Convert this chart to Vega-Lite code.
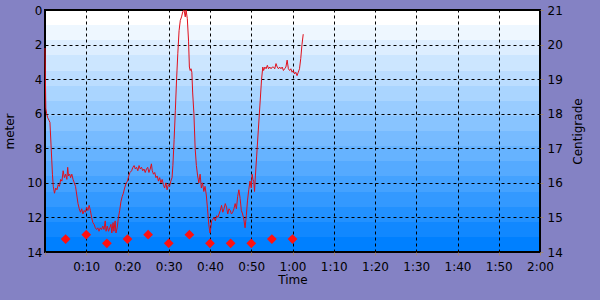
{
  "$schema": "https://vega.github.io/schema/vega-lite/v6.json",
  "width": 495,
  "height": 242,
  "autosize": {"type": "none"},
  "padding": {"left": 45, "top": 10, "right": 60, "bottom": 48},
  "background": "#8482c4",
  "view": {
    "fill": {"gradient": "linear", "x1": 0, "y1": 0, "x2": 0, "y2": 1, "stops": [
      {"offset": 0, "color": "#ffffff"}, {"offset": 0.0625, "color": "#ffffff"},
      {"offset": 0.0625, "color": "#eef7ff"}, {"offset": 0.125, "color": "#eef7ff"},
      {"offset": 0.125, "color": "#ddeeff"}, {"offset": 0.1875, "color": "#ddeeff"},
      {"offset": 0.1875, "color": "#cce6ff"}, {"offset": 0.25, "color": "#cce6ff"},
      {"offset": 0.25, "color": "#bbddff"}, {"offset": 0.3125, "color": "#bbddff"},
      {"offset": 0.3125, "color": "#aad5ff"}, {"offset": 0.375, "color": "#aad5ff"},
      {"offset": 0.375, "color": "#99ccff"}, {"offset": 0.4375, "color": "#99ccff"},
      {"offset": 0.4375, "color": "#88c4ff"}, {"offset": 0.5, "color": "#88c4ff"},
      {"offset": 0.5, "color": "#77bbff"}, {"offset": 0.5625, "color": "#77bbff"},
      {"offset": 0.5625, "color": "#66b3ff"}, {"offset": 0.625, "color": "#66b3ff"},
      {"offset": 0.625, "color": "#55aaff"}, {"offset": 0.6875, "color": "#55aaff"},
      {"offset": 0.6875, "color": "#44a2ff"}, {"offset": 0.75, "color": "#44a2ff"},
      {"offset": 0.75, "color": "#3399ff"}, {"offset": 0.8125, "color": "#3399ff"},
      {"offset": 0.8125, "color": "#2291ff"}, {"offset": 0.875, "color": "#2291ff"},
      {"offset": 0.875, "color": "#1188ff"}, {"offset": 0.9375, "color": "#1188ff"},
      {"offset": 0.9375, "color": "#0080ff"}, {"offset": 1, "color": "#0080ff"}
    ]},
    "stroke": "#000000",
    "strokeWidth": 2
  },
  "config": {
    "font": "DejaVu Sans",
    "axis": {
      "labelFont": "DejaVu Sans",
      "labelFontSize": 12,
      "labelColor": "#000000",
      "labelFlush": false,
      "labelOverlap": false,
      "titleFont": "DejaVu Sans",
      "titleFontSize": 12,
      "titleFontWeight": "normal",
      "titleColor": "#000000",
      "domain": false,
      "gridColor": "#000000",
      "gridDash": [3, 3],
      "gridWidth": 1,
      "gridOpacity": 1,
      "tickColor": "#a08878",
      "tickSize": 3
    }
  },
  "datasets": {
    "depth": [
      {"t": 0.0, "d": 2.2}, {"t": 0.1, "d": 4.0}, {"t": 0.2, "d": 5.7}, {"t": 0.4, "d": 6.0},
      {"t": 0.6, "d": 6.2}, {"t": 0.8, "d": 6.3}, {"t": 1.0, "d": 6.4}, {"t": 1.2, "d": 6.5},
      {"t": 1.5, "d": 8.0}, {"t": 1.8, "d": 9.5}, {"t": 2.0, "d": 10.2}, {"t": 2.3, "d": 10.6},
      {"t": 2.6, "d": 10.3}, {"t": 2.9, "d": 10.4}, {"t": 3.2, "d": 10.1}, {"t": 3.5, "d": 10.2},
      {"t": 3.8, "d": 9.8}, {"t": 4.1, "d": 9.9}, {"t": 4.4, "d": 9.3}, {"t": 4.7, "d": 9.7},
      {"t": 5.0, "d": 9.5}, {"t": 5.3, "d": 9.8}, {"t": 5.5, "d": 9.1}, {"t": 5.7, "d": 9.6},
      {"t": 6.0, "d": 9.5}, {"t": 6.2, "d": 9.7}, {"t": 6.5, "d": 9.5}, {"t": 6.8, "d": 9.8},
      {"t": 7.1, "d": 10.0}, {"t": 7.4, "d": 10.2}, {"t": 7.7, "d": 10.7}, {"t": 8.0, "d": 11.2},
      {"t": 8.3, "d": 11.5}, {"t": 8.6, "d": 11.7}, {"t": 8.9, "d": 11.5}, {"t": 9.2, "d": 11.8},
      {"t": 9.5, "d": 11.6}, {"t": 9.8, "d": 11.7}, {"t": 10.1, "d": 11.4}, {"t": 10.4, "d": 11.6},
      {"t": 10.7, "d": 11.3}, {"t": 11.0, "d": 11.6}, {"t": 11.3, "d": 12.0}, {"t": 11.6, "d": 12.3},
      {"t": 11.9, "d": 12.4}, {"t": 12.2, "d": 12.6}, {"t": 12.5, "d": 12.7}, {"t": 12.8, "d": 12.6},
      {"t": 13.1, "d": 12.8}, {"t": 13.4, "d": 12.6}, {"t": 13.7, "d": 12.7}, {"t": 14.0, "d": 12.5},
      {"t": 14.3, "d": 12.7}, {"t": 14.6, "d": 12.2}, {"t": 14.8, "d": 12.8}, {"t": 15.1, "d": 12.5},
      {"t": 15.4, "d": 12.8}, {"t": 15.7, "d": 12.6}, {"t": 16.0, "d": 12.4}, {"t": 16.2, "d": 12.9},
      {"t": 16.5, "d": 12.3}, {"t": 16.7, "d": 12.8}, {"t": 17.0, "d": 12.2}, {"t": 17.2, "d": 12.9},
      {"t": 17.5, "d": 12.6}, {"t": 17.8, "d": 12.0}, {"t": 18.1, "d": 11.6}, {"t": 18.4, "d": 11.1},
      {"t": 18.7, "d": 10.8}, {"t": 19.0, "d": 10.6}, {"t": 19.3, "d": 10.3}, {"t": 19.7, "d": 10.0},
      {"t": 20.0, "d": 9.9}, {"t": 20.3, "d": 9.6}, {"t": 20.6, "d": 9.4}, {"t": 21.0, "d": 9.3},
      {"t": 21.3, "d": 9.1}, {"t": 21.6, "d": 9.0}, {"t": 21.9, "d": 9.2}, {"t": 22.2, "d": 9.1},
      {"t": 22.5, "d": 9.3}, {"t": 22.8, "d": 9.0}, {"t": 23.1, "d": 9.2}, {"t": 23.4, "d": 9.1},
      {"t": 23.7, "d": 9.3}, {"t": 24.0, "d": 9.2}, {"t": 24.3, "d": 9.4}, {"t": 24.6, "d": 9.2},
      {"t": 24.9, "d": 9.1}, {"t": 25.2, "d": 9.4}, {"t": 25.5, "d": 9.2}, {"t": 25.8, "d": 8.9},
      {"t": 26.0, "d": 9.3}, {"t": 26.3, "d": 9.5}, {"t": 26.6, "d": 9.4}, {"t": 26.9, "d": 9.7},
      {"t": 27.2, "d": 9.6}, {"t": 27.5, "d": 9.9}, {"t": 27.8, "d": 9.7}, {"t": 28.1, "d": 10.0},
      {"t": 28.4, "d": 9.8}, {"t": 28.7, "d": 10.1}, {"t": 29.0, "d": 10.3}, {"t": 29.3, "d": 10.0},
      {"t": 29.6, "d": 10.4}, {"t": 29.9, "d": 10.1}, {"t": 30.2, "d": 10.2}, {"t": 30.5, "d": 9.9},
      {"t": 30.8, "d": 9.7}, {"t": 31.0, "d": 9.0}, {"t": 31.3, "d": 7.5}, {"t": 31.6, "d": 5.8},
      {"t": 31.9, "d": 4.0}, {"t": 32.2, "d": 2.5}, {"t": 32.5, "d": 1.2}, {"t": 32.8, "d": 0.6},
      {"t": 33.1, "d": 0.4}, {"t": 33.4, "d": 0.1}, {"t": 33.7, "d": 0.0}, {"t": 34.0, "d": 0.4},
      {"t": 34.2, "d": 0.0}, {"t": 34.5, "d": 0.5}, {"t": 34.8, "d": 1.8}, {"t": 35.0, "d": 3.3},
      {"t": 35.2, "d": 3.5}, {"t": 35.4, "d": 3.4}, {"t": 35.6, "d": 3.6}, {"t": 35.8, "d": 4.8},
      {"t": 36.1, "d": 6.0}, {"t": 36.4, "d": 8.0}, {"t": 36.7, "d": 9.0}, {"t": 37.0, "d": 9.6},
      {"t": 37.3, "d": 10.0}, {"t": 37.6, "d": 9.5}, {"t": 37.9, "d": 10.3}, {"t": 38.2, "d": 10.0},
      {"t": 38.5, "d": 10.5}, {"t": 38.8, "d": 10.2}, {"t": 39.1, "d": 10.7}, {"t": 39.4, "d": 11.5},
      {"t": 39.7, "d": 12.4}, {"t": 40.0, "d": 12.9}, {"t": 40.2, "d": 12.6}, {"t": 40.4, "d": 12.2},
      {"t": 40.7, "d": 12.1}, {"t": 41.0, "d": 12.0}, {"t": 41.3, "d": 12.2}, {"t": 41.6, "d": 11.9},
      {"t": 41.9, "d": 12.0}, {"t": 42.2, "d": 11.8}, {"t": 42.5, "d": 11.6}, {"t": 42.8, "d": 11.3},
      {"t": 43.1, "d": 11.7}, {"t": 43.4, "d": 11.5}, {"t": 43.7, "d": 11.2}, {"t": 44.0, "d": 11.4},
      {"t": 44.3, "d": 11.8}, {"t": 44.6, "d": 11.5}, {"t": 44.9, "d": 11.6}, {"t": 45.2, "d": 11.8},
      {"t": 45.5, "d": 11.7}, {"t": 45.8, "d": 11.5}, {"t": 46.1, "d": 11.2}, {"t": 46.4, "d": 11.5},
      {"t": 46.7, "d": 10.8}, {"t": 47.0, "d": 10.4}, {"t": 47.3, "d": 10.9}, {"t": 47.6, "d": 11.6},
      {"t": 47.9, "d": 11.8}, {"t": 48.2, "d": 12.1}, {"t": 48.5, "d": 12.6}, {"t": 48.8, "d": 11.9},
      {"t": 49.1, "d": 11.0}, {"t": 49.4, "d": 10.4}, {"t": 49.7, "d": 9.9}, {"t": 50.0, "d": 10.3},
      {"t": 50.2, "d": 9.5}, {"t": 50.4, "d": 9.8}, {"t": 50.6, "d": 9.9}, {"t": 50.8, "d": 10.5},
      {"t": 51.0, "d": 9.6}, {"t": 51.3, "d": 8.5}, {"t": 51.7, "d": 7.0}, {"t": 52.1, "d": 5.5},
      {"t": 52.5, "d": 4.0}, {"t": 52.8, "d": 3.3}, {"t": 53.0, "d": 3.5}, {"t": 53.3, "d": 3.3},
      {"t": 53.6, "d": 3.4}, {"t": 53.9, "d": 3.2}, {"t": 54.2, "d": 3.4}, {"t": 54.5, "d": 3.3},
      {"t": 54.8, "d": 3.4}, {"t": 55.1, "d": 3.3}, {"t": 55.4, "d": 3.3}, {"t": 55.7, "d": 3.4},
      {"t": 56.0, "d": 3.1}, {"t": 56.3, "d": 3.3}, {"t": 56.6, "d": 3.4}, {"t": 56.9, "d": 3.3},
      {"t": 57.2, "d": 3.4}, {"t": 57.5, "d": 3.3}, {"t": 57.8, "d": 3.5}, {"t": 58.1, "d": 3.4},
      {"t": 58.4, "d": 3.3}, {"t": 58.7, "d": 2.9}, {"t": 59.0, "d": 3.4}, {"t": 59.3, "d": 3.5},
      {"t": 59.6, "d": 3.4}, {"t": 59.9, "d": 3.6}, {"t": 60.2, "d": 3.5}, {"t": 60.5, "d": 3.7},
      {"t": 60.8, "d": 3.6}, {"t": 61.1, "d": 3.8}, {"t": 61.4, "d": 3.6}, {"t": 61.7, "d": 3.4},
      {"t": 62.0, "d": 2.8}, {"t": 62.3, "d": 2.0}, {"t": 62.6, "d": 1.4}
    ],
    "temp": [
      {"t": 5, "c": 14.375}, {"t": 10, "c": 14.5}, {"t": 15, "c": 14.25}, {"t": 20, "c": 14.375},
      {"t": 25, "c": 14.5}, {"t": 30, "c": 14.25}, {"t": 35, "c": 14.5}, {"t": 40, "c": 14.25},
      {"t": 45, "c": 14.25}, {"t": 50, "c": 14.25}, {"t": 55, "c": 14.375}, {"t": 60, "c": 14.375}
    ]
  },
  "layer": [
    {
      "data": {"name": "depth"},
      "mark": {"type": "line", "color": "#e0101c", "strokeWidth": 1, "interpolate": "linear"},
      "encoding": {
        "x": {
          "field": "t", "type": "quantitative",
          "scale": {"domain": [0, 120], "nice": false, "zero": false},
          "axis": {
            "orient": "bottom",
            "values": [0, 10, 20, 30, 40, 50, 60, 70, 80, 90, 100, 110, 120],
            "grid": true,
            "labelExpr": "datum.value == 0 ? '' : floor(datum.value / 60) + ':' + (datum.value % 60 < 10 ? '0' : '') + (datum.value % 60)",
            "labelPadding": 6,
            "title": "Time",
            "titlePadding": 2
          }
        },
        "y": {
          "field": "d", "type": "quantitative",
          "scale": {"domain": [0, 14], "reverse": true, "nice": false, "zero": false},
          "axis": {
            "orient": "left",
            "values": [0, 2, 4, 6, 8, 10, 12, 14],
            "grid": true,
            "ticks": false,
            "labelPadding": 3,
            "title": "meter",
            "titlePadding": 10
          }
        }
      }
    },
    {
      "data": {"name": "temp"},
      "mark": {"type": "point", "shape": "diamond", "filled": true, "color": "#ff1010", "opacity": 1, "size": 95},
      "encoding": {
        "x": {"field": "t", "type": "quantitative"},
        "y": {
          "field": "c", "type": "quantitative",
          "scale": {"domain": [14, 21], "nice": false, "zero": false},
          "axis": {
            "orient": "right",
            "values": [14, 15, 16, 17, 18, 19, 20, 21],
            "grid": false,
            "labelPadding": 4,
            "title": "Centigrade",
            "titleAngle": 270,
            "titleBaseline": "top",
            "titlePadding": 10
          }
        }
      }
    }
  ],
  "resolve": {"scale": {"y": "independent"}}
}
